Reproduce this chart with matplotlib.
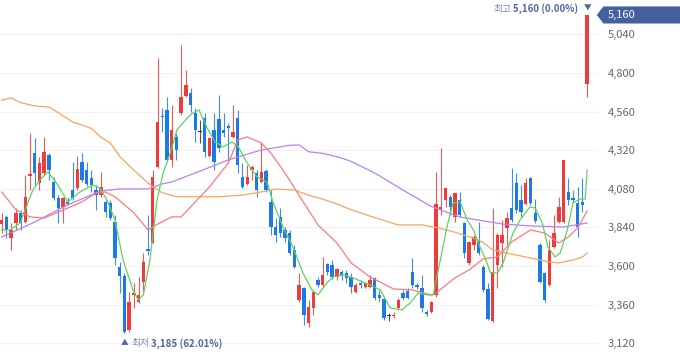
import matplotlib
matplotlib.use('Agg')
import matplotlib.pyplot as plt
import numpy as np
from matplotlib.patches import Polygon
from matplotlib.transforms import blended_transform_factory

plt.rcParams['font.family'] = ['Noto Sans CJK KR', 'DejaVu Sans']

# daily candles (open, high, low, close)
opens = [3860, 3905, 3775, 3865, 3930, 3875, 4160, 4300, 4115, 4180,
         4290, 4120, 4025, 3965, 4000, 4070, 4085, 4245, 4195, 4145,
         4070, 4040, 4000, 3990, 3875, 3595, 3540, 3200, 3420, 3375,
         3500, 3705, 3745, 4215, 4530, 4570, 4260, 4400, 4550, 4655,
         4675, 4550, 4435, 4520, 4285, 4445, 4515, 4445, 4470, 4400,
         4520, 4155, 4110, 4195, 4180, 4120, 4190, 4000, 3840, 3905,
         3825, 3805, 3700, 3390, 3465, 3245, 3340, 3515, 3480, 3610,
         3605, 3530, 3565, 3555, 3530, 3440, 3495, 3470, 3470, 3525,
         3420, 3395, 3290, 3290, 3340, 3430, 3445, 3565, 3480, 3465,
         3315, 3315, 3420, 3955, 4010, 4030, 3905, 4010, 3865, 3620,
         3730, 3760, 3595, 3455, 3260, 3605, 3745, 3835, 3960, 4115,
         4010, 3985, 4145, 3930, 3730, 3555, 3480, 3720, 3875, 3875,
         4060, 4025, 3990, 4000, 4730]
highs = [3930, 3915, 3865, 3960, 3950, 4165, 4425, 4395, 4275, 4400,
         4300, 4155, 4040, 4030, 4030, 4245, 4285, 4300, 4245, 4195,
         4105, 4185, 4010, 4010, 3915, 3625, 3555, 3440, 3495, 3530,
         3680, 3915, 4195, 4895, 4580, 4650, 4600, 4425, 4975, 4820,
         4705, 4580, 4505, 4550, 4400, 4550, 4665, 4550, 4490, 4600,
         4570, 4240, 4230, 4230, 4195, 4370, 4205, 4070, 3900, 3960,
         3845, 3825, 3730, 3555, 3470, 3390, 3450, 3530, 3655, 3620,
         3635, 3590, 3575, 3575, 3555, 3495, 3515, 3500, 3545, 3530,
         3450, 3400, 3310, 3315, 3400, 3450, 3465, 3650, 3495, 3545,
         3325, 3385, 4185, 4335, 4085, 4040, 4055, 4060, 3875, 3750,
         3795, 3875, 3605, 3495, 3960, 3805, 3885, 3935, 4210, 4180,
         4105, 4145, 4155, 4015, 3745, 3565, 3760, 3915, 4030, 4260,
         4145, 4070, 4090, 4145, 5160]
lows = [3805, 3775, 3700, 3825, 3825, 3865, 4070, 4105, 4070, 4165,
        4135, 4010, 3865, 3865, 3980, 4010, 4070, 4120, 4095, 4060,
        3950, 4030, 3905, 3885, 3605, 3430, 3185, 3190, 3340, 3370,
        3440, 3670, 3745, 4210, 4435, 4245, 4215, 4260, 4540, 4650,
        4555, 4370, 4365, 4275, 4275, 4195, 4310, 4400, 4255, 4395,
        4180, 4085, 4105, 4135, 4030, 4115, 4060, 3795, 3750, 3780,
        3750, 3670, 3590, 3375, 3235, 3220, 3295, 3470, 3470, 3545,
        3520, 3515, 3515, 3495, 3430, 3430, 3465, 3465, 3465, 3390,
        3375, 3265, 3260, 3275, 3325, 3390, 3395, 3465, 3455, 3315,
        3290, 3310, 3405, 3915, 3965, 3915, 3875, 3905, 3650, 3605,
        3700, 3670, 3440, 3265, 3250, 3465, 3595, 3730, 3875, 3930,
        3905, 3980, 3980, 3865, 3495, 3375, 3475, 3710, 3865, 3865,
        3980, 3990, 3780, 3935, 4650]
closes = [3885, 3825, 3825, 3930, 3865, 4030, 4170, 4180, 4240, 4310,
          4195, 4025, 3960, 4025, 3985, 4025, 4205, 4135, 4110, 4105,
          4040, 4090, 3935, 3900, 3650, 3540, 3190, 3375, 3430, 3420,
          3625, 3695, 4155, 4495, 4525, 4260, 4445, 4320, 4650, 4725,
          4600, 4445, 4435, 4310, 4395, 4245, 4335, 4425, 4460, 4435,
          4230, 4090, 4155, 4215, 4070, 4185, 4070, 3840, 3795, 3805,
          3775, 3680, 3595, 3480, 3295, 3345, 3440, 3480, 3545, 3565,
          3530, 3580, 3545, 3525, 3470, 3480, 3480, 3495, 3515, 3400,
          3400, 3275, 3290, 3295, 3390, 3400, 3400, 3480, 3470, 3340,
          3300, 3375, 3985, 3965, 4085, 3965, 4055, 3915, 3680, 3750,
          3780, 3680, 3450, 3270, 3560, 3790, 3795, 3900, 3885, 3950,
          3935, 4115, 3990, 3880, 3500, 3390, 3700, 3805, 3965, 4260,
          4010, 4010, 3840, 3980, 5160]

# moving average lines, sampled along each curve (candle index, price)
ma5_idx = [0, 1.8, 3.9, 6.6, 8.1, 9.8, 11.9, 14.0, 16.6, 19.3, 20.8, 22.3, 24.0,
           25.7, 27.8, 28.9, 30.0, 31.4, 32.9, 34.2, 35.7, 37.1, 39.3, 40.5,
           41.8, 43.5, 45.2, 46.9, 48.8, 50.1, 52.0, 54.1, 56.2, 57.5, 59.6,
           61.7, 63.8, 65.7, 67.0, 68.9, 70.2, 72.3, 74.4, 78.0, 80.2, 82.3,
           84.8, 86.5, 88.2, 90.1, 91.4, 92.9, 94.3, 95.6, 97.1, 98.6, 99.9,
           101.3, 102.8, 103.5, 105.0, 106.2, 108.3, 109.8, 111.9, 113.0,
           114.5, 115.7, 117.2, 118.3, 119.8, 121.0, 122.5, 123.6, 124.0]
ma5_val = [3824, 3824, 3867, 4072, 4134, 4184, 4103, 3998, 4060, 4103, 4085, 4010, 3886,
           3637, 3451, 3389, 3420, 3637, 4010, 4178, 4302, 4445, 4520, 4551,
           4570, 4458, 4371, 4340, 4371, 4340, 4240, 4153, 4122, 3992, 3842,
           3718, 3557, 3451, 3420, 3495, 3532, 3544, 3526, 3482, 3451, 3339,
           3327, 3370, 3432, 3420, 3420, 3637, 3842, 3992, 3998, 3886, 3824,
           3718, 3619, 3557, 3557, 3619, 3805, 3886, 3967, 3960,
           3867, 3718, 3656, 3681, 3824, 3992, 4016, 4016, 4197]
ma20_idx = [0, 3, 6, 9, 14, 17, 20, 22, 24, 28, 31, 33, 36, 38, 40, 44, 48, 50, 52,
            55, 57, 60, 64, 67, 71, 74, 78, 83, 87, 91, 92, 96, 99, 102, 105,
            108, 112, 115, 118, 120, 122, 124]
ma20_val = [4060, 3950, 3905, 3898, 3960, 3998, 4054, 4060, 4030, 3930, 3824, 3860,
            3905, 3905, 3967, 4091, 4240, 4383, 4402, 4364, 4302, 4178, 3992,
            3855, 3743, 3619, 3532, 3457, 3451, 3420, 3432, 3526, 3575, 3644,
            3656, 3749, 3824, 3805, 3743, 3780, 3836, 3942]
ma60_idx = [0, 2, 4, 7, 10, 12, 15, 19, 21, 23, 25, 28, 31, 34, 37, 41, 46, 51, 55,
            58, 62, 65, 68, 71, 74, 78, 82, 84, 89, 92, 96, 100, 102, 104, 107,
            111, 116, 118, 121, 123, 124]
ma60_val = [4630, 4645, 4615, 4595, 4588, 4552, 4495, 4455, 4400, 4365, 4280, 4195,
            4115, 4055, 4030, 4030, 4030, 4040, 4060, 4078, 4072, 4040, 4015,
            3985, 3950, 3910, 3873, 3855, 3855, 3840, 3810, 3772, 3745, 3700,
            3680, 3656, 3625, 3619, 3637, 3655, 3681]
ma120_idx = [0, 7, 14, 21, 25, 31, 34, 36, 41, 48, 55, 61, 63, 65, 68, 72, 74, 79,
             86, 91, 97, 101, 106, 112, 119, 124]
ma120_val = [3780, 3873, 3980, 4066, 4079, 4079, 4110, 4122, 4178, 4259, 4321, 4350,
             4352, 4310, 4300, 4271, 4250, 4178, 4054, 3970, 3905, 3885, 3861,
             3849, 3842, 3867]

price_ticks = [3120, 3360, 3600, 3840, 4080, 4320, 4560, 4800, 5040]

UP = '#ef3b3b'
DOWN = '#1c7ae6'
FLAT = '#333333'

fig = plt.figure(figsize=(6.8, 3.58), dpi=100)
ax = fig.add_axes([0, 0, 598 / 680, 1])

o = np.array(opens)
h = np.array(highs)
l = np.array(lows)
c = np.array(closes)
x = np.arange(len(o))
cols = np.where(c > o, UP, np.where(c < o, DOWN, FLAT))

for y in price_ticks:
    ax.axhline(y, color='#f1f2f6', lw=0.9, zorder=0)

ax.vlines(x, l, h, colors=cols, lw=0.8, alpha=0.85, zorder=2)
body = np.maximum(np.abs(c - o), 6)
ax.bar(x, body, bottom=np.minimum(o, c), width=0.72, color=cols, lw=0, zorder=2)

ax.plot(ma120_idx, ma120_val, color='#b683f2', lw=0.9, zorder=3)
ax.plot(ma60_idx, ma60_val, color='#f7a462', lw=0.9, zorder=3)
ax.plot(ma20_idx, ma20_val, color='#fb7b7b', lw=0.9, zorder=3)
ax.plot(ma5_idx, ma5_val, color='#5fd35f', lw=0.9, zorder=3)

ax.set_xlim(-0.36, 126.3)
ax.set_ylim(3028, 5253)
ax.set_xticks([])
ax.yaxis.tick_right()
ax.set_yticks(price_ticks)
ax.set_yticklabels([f'{v:,}' for v in price_ticks])
ax.tick_params(axis='y', length=0, pad=7, labelsize=8, labelcolor='#666666')
for s in ax.spines.values():
    s.set_visible(False)

# high / low markers
hi = int(np.argmax(h))
lo = int(np.argmin(l))
last = c[-1]
mark_c = '#4f68a8'
t1 = ax.annotate('▼', xy=(hi, h[hi]), xytext=(0, 4.5), textcoords='offset points',
                 ha='center', va='center', fontsize=5.5, color=mark_c)
t2 = ax.annotate(f'{h[hi]:,} ({(last - h[hi]) / h[hi] * 100:.2f}%)', xy=(0, 0.5), xycoords=t1,
                 xytext=(-3.5, 0), textcoords='offset points', ha='right', va='center',
                 fontsize=7, weight='bold', color=mark_c)
ax.annotate('최고', xy=(0, 0.5), xycoords=t2, xytext=(-1.5, 0), textcoords='offset points',
            ha='right', va='center', fontsize=7, color='#7486bd')

b1 = ax.annotate('▲', xy=(lo, l[lo]), xytext=(0, -7.5), textcoords='offset points',
                 ha='center', va='center', fontsize=5.5, color=mark_c)
b2 = ax.annotate('최저', xy=(1, 0.5), xycoords=b1, xytext=(2, 0), textcoords='offset points',
                 ha='left', va='center', fontsize=7, color='#7486bd')
ax.annotate(f'{l[lo]:,} ({(last - l[lo]) / l[lo] * 100:.2f}%)', xy=(1, 0.5), xycoords=b2,
            xytext=(1.5, 0), textcoords='offset points', ha='left', va='center',
            fontsize=7, weight='bold', color=mark_c)

# current price tag on the price axis
tr = blended_transform_factory(ax.transAxes, ax.transData)
half = 53
tag = Polygon([(0.998, last), (1.009, last + half), (1.14, last + half),
               (1.14, last - half), (1.009, last - half)], closed=True,
              transform=tr, clip_on=False, fc='#44609e', ec='none', zorder=5)
ax.add_patch(tag)
ax.text(1.0165, last, f'{last:,}', transform=tr, ha='left', va='center',
        fontsize=8, color='white', zorder=6)

fig.savefig('out.png', dpi=100)
